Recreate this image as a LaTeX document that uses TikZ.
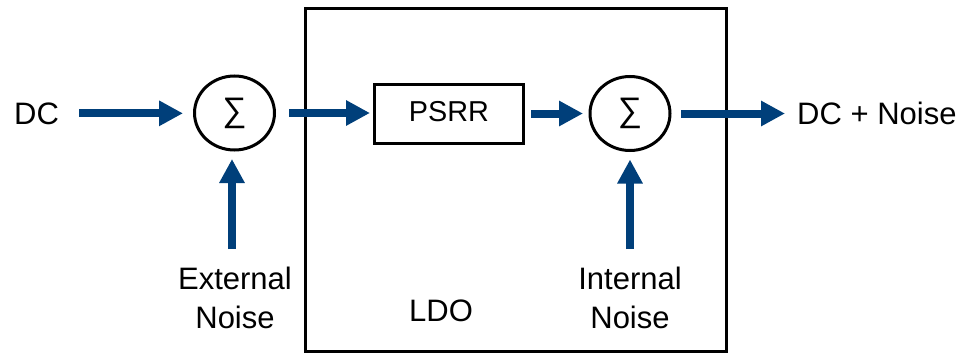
\documentclass[tikz,border=0pt]{standalone}
\usepackage{fontspec}
\setmainfont{Liberation Sans}
\usetikzlibrary{arrows.meta,shapes.geometric}
\definecolor{flowblue}{RGB}{0,63,122}
\begin{document}
\begin{tikzpicture}[x=1pt,y=-1pt,
  lbl/.style={inner sep=0pt, font=\fontsize{31}{39}\selectfont},
  sumnode/.style={draw=black, line width=3pt, ellipse, inner sep=0pt,
    minimum width=80pt, minimum height=74pt, font=\fontsize{34}{39}\selectfont},
  blockbox/.style={draw=black, line width=3pt, rectangle, inner sep=0pt},
  flow/.style={draw=flowblue, line width=8pt,
    -{Triangle[length=24pt,width=24pt]}}
]
\useasboundingbox (0,0) rectangle (963,356);
% LDO outer box
\node[blockbox, minimum width=421pt, minimum height=343pt] (ldo) at (516,180) {};
\node[lbl, anchor=base] (ldotxt) at (441,321) {LDO};
% summing junctions
\node[sumnode] (s1) at (234.5,113) {\raisebox{-6pt}{∑}};
\node[sumnode] (s2) at (630,113.5) {\raisebox{-6pt}{∑}};
% PSRR
\node[blockbox, minimum width=149pt, minimum height=59pt] (psrr) at (449,114) {};
\node[inner sep=0pt, font=\fontsize{28.8}{34}\selectfont, anchor=base] (psrrtxt) at (449,121) {PSRR};
% labels
\node[lbl, anchor=base west] (dc) at (14,124) {DC};
\node[lbl, anchor=base west] (out) at (797,124) {DC + Noise};
\node[lbl, anchor=base, align=center] (ext) at (235,328) {External\\Noise};
\node[lbl, anchor=base, align=center] (int) at (630,328) {Internal\\Noise};
% arrow tails
\coordinate (extend) at (232,249);
\coordinate (intend) at (630,249);
% connectors
\draw[flow, shorten <=20pt, shorten >=10pt] (dc.east) -- (dc.east -| s1.west);
\draw[flow, shorten <=13pt, shorten >=3pt] (s1.east) -- (s1.east -| psrr.west);
\draw[flow, shorten <=6pt, shorten >=5.5pt] (psrr.east |- s2.west) -- (s2.west);
\draw[flow, shorten <=9.5pt, shorten >=12pt] (s2.east) -- (s2.east -| out.west);
\draw[flow, shorten >=7.5pt] (extend) -- (extend |- s1.south);
\draw[flow, shorten >=7.5pt] (intend) -- (intend |- s2.south);
\end{tikzpicture}
\end{document}
